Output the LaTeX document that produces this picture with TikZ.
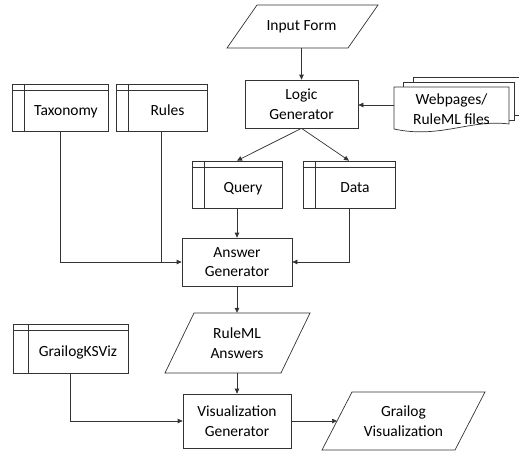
\documentclass[tikz,border=0pt]{standalone}
\usepackage{fontspec}
\setmainfont{Carlito}
\usetikzlibrary{arrows.meta}
\begin{document}
\begin{tikzpicture}[x=1pt,y=-1pt,
  every node/.style={font=\fontsize{15.5}{19.5}\selectfont, text=black, inner sep=2pt},
  ln/.style={draw=black!80, line width=0.7pt},
  arr/.style={ln, -{Triangle[length=5pt,width=4.5pt]}},
  proc/.style={ln, align=center, minimum width=#1, minimum height=48pt},
  lbl/.style={align=center, draw=none},
  store/.style={ln, minimum height=47pt, text height=18pt, text depth=3pt,
    execute at begin node={\hspace*{12pt}},
    path picture={
      \draw[black!80, line width=0.7pt] ([yshift=-6pt]path picture bounding box.north west) -- ([yshift=-6pt]path picture bounding box.north east);
      \draw[black!80, line width=0.7pt] ([xshift=12pt]path picture bounding box.north west) -- ([xshift=12pt]path picture bounding box.south west);
    }},
  shp/.style={ln, fill=white}
]
\useasboundingbox (0,0) rectangle (519,452);

% Input Form
\draw[shp] (227,48) -- (257,5) -- (378,5) -- (348,48) -- cycle;
\node[lbl, minimum width=121pt, minimum height=43pt] (inp) at (301.5,26.5) {Input Form};

% Logic Generator
\node[proc=113pt] (lg) at (301.5,104) {Logic\\Generator};

% Webpages multi-document
\draw[shp] (413,87) -- (413,77) -- (519,77) -- (519,115) -- (514,115);
\draw[shp] (403,87) -- (403,82) -- (514,82) -- (514,120) -- (509,120);
\draw[shp] (394,87) -- (509,87) -- (509,124) .. controls (470,119) and (440,139) .. (394,129) -- cycle;
\node[lbl, minimum width=115pt, minimum height=40pt] (web) at (451.5,109) {Webpages/\\RuleML files};

% Storage boxes
\node[store, minimum width=96pt] (tax) at (60,107.5) {Taxonomy};
\node[store, minimum width=91pt] (rul) at (161.5,107.5) {Rules};
\node[store, minimum width=90pt] (qry) at (237,184.5) {Query};
\node[store, minimum width=92pt] (dat) at (349,184.5) {Data};

% Answer Generator
\node[proc=110pt] (ag) at (237,262) {Answer\\Generator};

% RuleML Answers
\draw[shp] (165,373) -- (194,313) -- (310,313) -- (281,373) -- cycle;
\node[lbl, minimum width=116pt, minimum height=60pt] (rma) at (237,343) {RuleML\\Answers};

% GrailogKSViz
\node[ln, minimum width=115pt, minimum height=49pt, text height=18pt, text depth=3pt,
  execute at begin node={\hspace*{15pt}},
  path picture={
    \draw[black!80, line width=0.7pt] ([yshift=-6pt]path picture bounding box.north west) -- ([yshift=-6pt]path picture bounding box.north east);
    \draw[black!80, line width=0.7pt] ([xshift=15pt]path picture bounding box.north west) -- ([xshift=15pt]path picture bounding box.south west);
  }] (gks) at (70.5,348.5) {GrailogKSViz};

% Visualization Generator
\node[ln, align=center, minimum width=108pt, minimum height=54pt] (vg) at (237,421) {Visualization\\Generator};

% Grailog Visualization
\draw[shp] (322,450) -- (352,392) -- (485,392) -- (455,450) -- cycle;
\node[lbl, minimum width=133pt, minimum height=58pt] (gvz) at (403.5,421) {Grailog\\Visualization};
\coordinate (gvzin) at (337,421);

% Connectors
\draw[arr] (inp.south) -- (lg.north);
\draw[arr] ([yshift=4pt]web.west) -- ([yshift=4pt]web.west -| lg.east);
\draw[arr] (lg.south) -- (qry.north);
\draw[arr] (lg.south) -- (dat.north);
\draw[arr] (qry.south) -- (ag.north);
\draw[arr] (tax.south) |- (ag.west);
\draw[ln] (rul.south) -- (rul.south |- ag.west);
\draw[arr] (dat.south) |- (ag.east);
\draw[arr] (ag.south) -- (rma.north);
\draw[arr] (rma.south) -- (vg.north);
\draw[arr] (gks.south) |- (vg.west);
\draw[arr] (vg.east) -- (gvzin);
\end{tikzpicture}
\end{document}
